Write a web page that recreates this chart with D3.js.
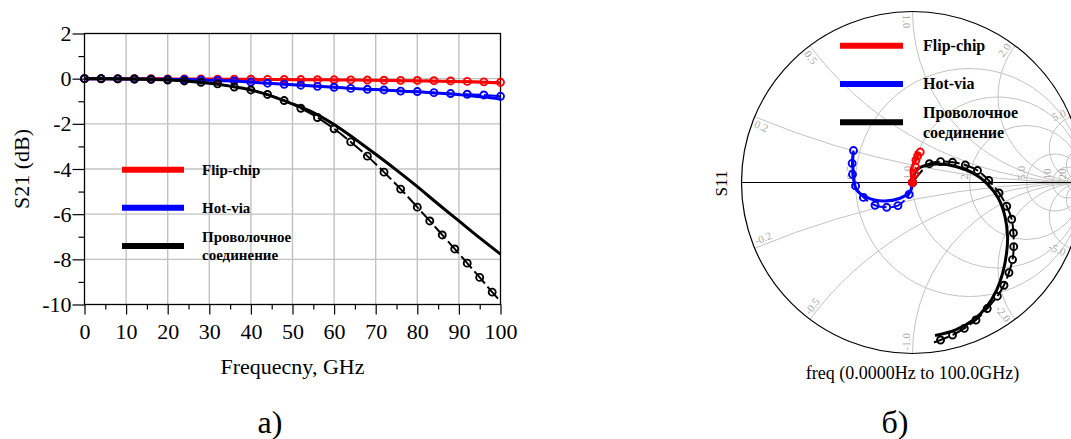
<!DOCTYPE html>
<html>
<head>
<meta charset="utf-8">
<script src="https://cdn.jsdelivr.net/npm/d3@7"></script>
<style>
  body { margin: 0; background: #fff; }
  text { font-family: "Liberation Serif", "Times New Roman", serif; }
</style>
</head>
<body>
<div id="chart"></div>
<script>
// ---------- data: S21 (dB) vs frequency (GHz) ----------
var freqRed = [0,4,8,12,16,20,24,28,32,36,40,44,48,52,56,60,64,68,72,76,80,84,88,92,96,100];
var redMeas = [0,0,0,0,-0.005,-0.01,-0.01,-0.015,-0.02,-0.02,-0.025,-0.03,-0.035,-0.04,-0.045,-0.05,-0.055,-0.06,-0.07,-0.075,-0.08,-0.09,-0.1,-0.12,-0.14,-0.16];
var redSim  = [0,0,0,0,-0.005,-0.01,-0.01,-0.015,-0.02,-0.025,-0.03,-0.035,-0.04,-0.045,-0.05,-0.055,-0.06,-0.07,-0.08,-0.09,-0.1,-0.11,-0.12,-0.14,-0.16,-0.19];

var freqBlue = [0,4,8,12,16,20,24,28,32,36,40,44,48,52,56,60,64,68,72,76,80,84,88,92,96,100];
var blueMeas = [0,0,-0.01,-0.015,-0.02,-0.03,-0.04,-0.06,-0.075,-0.1,-0.15,-0.2,-0.25,-0.29,-0.34,-0.38,-0.43,-0.47,-0.5,-0.55,-0.57,-0.62,-0.66,-0.69,-0.72,-0.78];
var blueSim  = [0,0,-0.01,-0.015,-0.02,-0.03,-0.04,-0.06,-0.075,-0.1,-0.15,-0.2,-0.25,-0.29,-0.34,-0.38,-0.43,-0.47,-0.5,-0.55,-0.58,-0.63,-0.68,-0.74,-0.81,-0.9];

var freqBlackMeas = [0,4,8,12,16,20,24,28,32,36,40,44,48,52,56,60,64,68,72,76,80,83,86,89,92,95,98,100];
var blackMeas = [0,-0.005,-0.01,-0.015,-0.03,-0.06,-0.1,-0.16,-0.23,-0.37,-0.5,-0.7,-0.97,-1.31,-1.72,-2.22,-2.8,-3.43,-4.14,-4.89,-5.69,-6.3,-6.92,-7.54,-8.17,-8.8,-9.45,-9.86];
var freqBlackSim = [0,5,10,15,20,25,30,35,40,45,50,55,60,65,70,75,80,85,90,95,100];
var blackSim = [0,0,-0.01,-0.03,-0.06,-0.11,-0.2,-0.33,-0.5,-0.77,-1.12,-1.5,-2.03,-2.67,-3.35,-4.05,-4.78,-5.55,-6.3,-7.05,-7.77];

var xTicks = [0,10,20,30,40,50,60,70,80,90,100];
var xMinor = [5,15,25,35,45,55,65,75,85,95];
var yTicks = [-10,-8,-6,-4,-2,0,2];
var yMinor = [-9,-7,-5,-3,-1,1];

// ---------- data: S11 on the Smith chart (real / imaginary part of reflection) ----------
var redS11MeasRe = [0,0.012,0.018,0.02,0.03,0.045];
var redS11MeasIm = [0,0.05,0.09,0.13,0.155,0.178];
var redS11SimRe  = [0,-0.006,-0.008,0.001,0.015,0.027,0.018];
var redS11SimIm  = [0,0.04,0.075,0.1,0.13,0.165,0.185];

var blueS11MeasRe = [0,-0.02,-0.085,-0.151,-0.219,-0.287,-0.333,-0.351,-0.353,-0.345];
var blueS11MeasIm = [0,-0.07,-0.135,-0.145,-0.133,-0.087,-0.02,0.048,0.112,0.187];
var blueS11SimRe  = [0,-0.015,-0.073,-0.171,-0.268,-0.326,-0.34,-0.346,-0.35,-0.346];
var blueS11SimIm  = [0,-0.054,-0.092,-0.108,-0.087,-0.044,-0.005,0.054,0.12,0.18];

var blackS11MeasRe = [0,0.099,0.164,0.234,0.309,0.38,0.446,0.506,0.551,0.58,0.59,0.592,0.585,0.564,0.535,0.496,0.437,0.371,0.303,0.234,0.164,0.112];
var blackS11MeasIm = [0,0.11,0.122,0.118,0.102,0.07,0.012,-0.061,-0.139,-0.215,-0.295,-0.375,-0.451,-0.527,-0.601,-0.665,-0.737,-0.804,-0.853,-0.892,-0.921,-0.94];
var blackS11SimRe  = [0,0.025,0.083,0.161,0.258,0.356,0.434,0.502,0.541,0.556,0.55,0.527,0.492,0.434,0.356,0.249,0.132];
var blackS11SimIm  = [0,0.073,0.102,0.108,0.092,0.054,-0.005,-0.092,-0.2,-0.317,-0.414,-0.531,-0.629,-0.726,-0.804,-0.863,-0.895];

var smithR = [0.5,1,2,5,10,20];
var smithRLabels = ["0.5","1.0","2.0","5.0","10","20"];
var smithX = [0.2,0.5,1,2,5,10,20,-0.2,-0.5,-1,-2,-5,-10,-20];
var smithXLabels = [0.2,0.5,1,2,5,-0.2,-0.5,-1,-2,-5];

var legendNames = ["Flip-chip", "Hot-via", "Проволочное|соединение"];
var legendColors = ["#ff0000", "#0000ff", "#000000"];

var width = 1071, height = 439;
var serif = "Liberation Serif, Times New Roman, serif";
var dash = "16,4";

var svg = d3.select("#chart").append("svg")
    .attr("width", width)
    .attr("height", height);

function zip(a, b) { return a.map(function(d, i) { return [d, b[i]]; }); }

// ================= a) S21 =================
var x = d3.scaleLinear().domain([0, 100]).range([84.5, 500.5]);
var y = d3.scaleLinear().domain([-10, 2]).range([304.5, 33.5]);

var g1 = svg.append("g");

// grid
g1.selectAll(".vgrid").data(xTicks.slice(1, -1)).enter().append("line")
    .attr("x1", function(d) { return x(d); }).attr("x2", function(d) { return x(d); })
    .attr("y1", y(2)).attr("y2", y(-10))
    .attr("stroke", "#c2c2c2").attr("stroke-width", 1.4);
g1.selectAll(".hgrid").data(yTicks.slice(1, -1)).enter().append("line")
    .attr("y1", function(d) { return y(d); }).attr("y2", function(d) { return y(d); })
    .attr("x1", x(0)).attr("x2", x(100))
    .attr("stroke", "#c2c2c2").attr("stroke-width", 1.4);

// axes
var xAx = g1.append("g").attr("transform", "translate(0," + y(-10) + ")")
    .call(d3.axisBottom(x).tickValues(xTicks).tickSize(10).tickPadding(9).tickFormat(function(d) { return d; }));
var xAxMinor = g1.append("g").attr("transform", "translate(0," + y(-10) + ")")
    .call(d3.axisBottom(x).tickValues(xMinor).tickSize(5).tickFormat(""));
var yAx = g1.append("g").attr("transform", "translate(" + x(0) + ",0)")
    .call(d3.axisLeft(y).tickValues(yTicks).tickSize(12).tickPadding(1).tickFormat(function(d) { return String(d); }));
var yAxMinor = g1.append("g").attr("transform", "translate(" + x(0) + ",0)")
    .call(d3.axisLeft(y).tickValues(yMinor).tickSize(6).tickFormat(""));

[xAx, xAxMinor, yAx, yAxMinor].forEach(function(a) {
  a.select(".domain").remove();
  a.attr("font-family", serif).attr("font-size", 22);
  a.selectAll("line").attr("stroke", "#000").attr("stroke-width", 1.2);
  a.selectAll("text").attr("fill", "#000");
});

g1.append("rect")
    .attr("x", x(0)).attr("y", y(2))
    .attr("width", x(100) - x(0)).attr("height", y(-10) - y(2))
    .attr("fill", "none").attr("stroke", "#000").attr("stroke-width", 1.3);

var lineS21 = d3.line()
    .x(function(d) { return x(d[0]); })
    .y(function(d) { return y(d[1]); })
    .curve(d3.curveMonotoneX);

function drawS21(freq, sim, meas, mfreq, color, skipLast) {
  var simData = zip(freq, sim);
  var measData = zip(mfreq, meas);
  g1.append("path").datum(simData)
      .attr("d", lineS21).attr("fill", "none")
      .attr("stroke", color).attr("stroke-width", 3);
  g1.append("path").datum(measData)
      .attr("d", lineS21).attr("fill", "none")
      .attr("stroke", color).attr("stroke-width", 2)
      .attr("stroke-dasharray", dash);
  var pts = skipLast ? measData.slice(0, -1) : measData;
  g1.selectAll(null).data(pts).enter().append("circle")
      .attr("cx", function(d) { return x(d[0]); })
      .attr("cy", function(d) { return y(d[1]); })
      .attr("r", 3.5)
      .attr("fill", "none").attr("stroke", color).attr("stroke-width", 1.9);
}
drawS21(freqRed, redSim, redMeas, freqRed, "#ff0000", false);
drawS21(freqBlue, blueSim, blueMeas, freqBlue, "#0000ff", false);
drawS21(freqBlackSim, blackSim, blackMeas, freqBlackMeas, "#000000", true);

// legend
function legend(g, x0, x1, xt, ys, fs) {
  legendNames.forEach(function(name, i) {
    g.append("line")
        .attr("x1", x0).attr("x2", x1).attr("y1", ys[i]).attr("y2", ys[i])
        .attr("stroke", legendColors[i]).attr("stroke-width", 6);
    var parts = name.split("|");
    var t = g.append("text")
        .attr("x", xt).attr("y", ys[i])
        .attr("font-size", fs).attr("font-weight", "bold").attr("fill", "#000");
    if (parts.length === 1) {
      t.attr("dy", "0.33em").text(name);
    } else {
      t.append("tspan").attr("x", xt).attr("dy", "-0.25em").text(parts[0]);
      t.append("tspan").attr("x", xt).attr("dy", "1.2em").text(parts[1]);
    }
  });
}
legend(g1, 122, 184, 202, [169.7, 207.7, 246], 15);

g1.append("text")
    .attr("x", (x(0) + x(100)) / 2).attr("y", 374)
    .attr("text-anchor", "middle").attr("font-size", 22)
    .text("Frequecny, GHz");
g1.append("text")
    .attr("transform", "translate(29,169) rotate(-90)")
    .attr("text-anchor", "middle").attr("font-size", 22)
    .text("S21 (dB)");
g1.append("text")
    .attr("x", 270).attr("y", 433)
    .attr("text-anchor", "middle").attr("font-size", 32)
    .text("a)");

// ================= б) Smith chart =================
var cx = 912.5, cy = 182.5, R = 171;
var sx = d3.scaleLinear().domain([-1, 1]).range([cx - R, cx + R]);
var sy = d3.scaleLinear().domain([-1, 1]).range([cy + R, cy - R]);

var g2 = svg.append("g");
g2.append("clipPath").attr("id", "unit")
  .append("circle").attr("cx", cx).attr("cy", cy).attr("r", R);

var grid = g2.append("g").attr("clip-path", "url(#unit)")
    .attr("fill", "none").attr("stroke", "#c2c2c2").attr("stroke-width", 1);

grid.selectAll(".rc").data(smithR).enter().append("circle")
    .attr("cx", function(r) { return sx(r / (1 + r)); })
    .attr("cy", cy)
    .attr("r", function(r) { return sx(1 / (1 + r)) - sx(0); });

grid.selectAll(".xc").data(smithX).enter().append("circle")
    .attr("cx", sx(1))
    .attr("cy", function(v) { return sy(1 / v); })
    .attr("r", function(v) { return sx(1 / Math.abs(v)) - sx(0); });

// r labels on the real axis
g2.selectAll(".rl").data(smithR).enter().append("text")
    .attr("transform", function(r) {
      return "translate(" + (sx((r - 1) / (r + 1)) - 1.5) + "," + (cy - 3) + ") rotate(-90)";
    })
    .attr("font-size", 11).attr("fill", "#a8a8a8")
    .text(function(r, i) { return smithRLabels[i]; });

// reactance labels along the outer circle
smithXLabels.forEach(function(v) {
  var px = (v * v - 1) / (v * v + 1), py = 2 * v / (v * v + 1);
  var ix = -px, iy = py; // inward direction on screen
  var ang = Math.atan2(iy, ix) * 180 / Math.PI;
  var anchor = "start";
  if (ang > 90) { ang -= 180; anchor = "end"; }
  if (ang < -90) { ang += 180; anchor = "end"; }
  var posX = sx(px) + ix * 3, posY = sy(py) + iy * 3;
  // keep text on the side away from the arc centre
  var wx = sx(px) - sx(1), wy = sy(py) - sy(1 / v);
  var a = ang * Math.PI / 180;
  var ux = Math.sin(a), uy = -Math.cos(a);
  var dy = (ux * wx + uy * wy) > 0 ? "-0.2em" : "0.9em";
  var lab = (v < 0 ? "-" : "") + Math.abs(v).toFixed(1);
  g2.append("text")
      .attr("transform", "translate(" + posX + "," + posY + ") rotate(" + ang + ")")
      .attr("text-anchor", anchor).attr("dy", dy)
      .attr("font-size", 11).attr("fill", "#a8a8a8")
      .text(lab);
});

g2.append("circle").attr("cx", cx).attr("cy", cy).attr("r", R)
    .attr("fill", "none").attr("stroke", "#000").attr("stroke-width", 1.2);
g2.append("line").attr("x1", cx - R).attr("x2", cx + R).attr("y1", cy).attr("y2", cy)
    .attr("stroke", "#000").attr("stroke-width", 1);

var lineSmith = d3.line()
    .x(function(d) { return sx(d[0]); })
    .y(function(d) { return sy(d[1]); })
    .curve(d3.curveCatmullRom);

function drawS11(simRe, simIm, measRe, measIm, color, skipLast) {
  var sim = zip(simRe, simIm), meas = zip(measRe, measIm);
  g2.append("path").datum(sim).attr("d", lineSmith).attr("fill", "none")
      .attr("stroke", color).attr("stroke-width", 3);
  g2.append("path").datum(meas).attr("d", lineSmith).attr("fill", "none")
      .attr("stroke", color).attr("stroke-width", 2).attr("stroke-dasharray", dash);
  var pts = skipLast ? meas.slice(0, -1) : meas;
  g2.selectAll(null).data(pts).enter().append("circle")
      .attr("cx", function(d) { return sx(d[0]); })
      .attr("cy", function(d) { return sy(d[1]); })
      .attr("r", 3.5)
      .attr("fill", "none").attr("stroke", color).attr("stroke-width", 1.9);
}
drawS11(blueS11SimRe, blueS11SimIm, blueS11MeasRe, blueS11MeasIm, "#0000ff", false);
drawS11(blackS11SimRe, blackS11SimIm, blackS11MeasRe, blackS11MeasIm, "#000000", true);
drawS11(redS11SimRe, redS11SimIm, redS11MeasRe, redS11MeasIm, "#ff0000", false);
g2.append("circle").attr("cx", sx(0)).attr("cy", sy(0)).attr("r", 4).attr("fill", "#ff0000");

legend(g2, 840, 903, 923, [45.7, 84, 122.3], 16);

g2.append("text")
    .attr("transform", "translate(727,183.5) rotate(-90)")
    .attr("text-anchor", "middle").attr("font-size", 17)
    .text("S11");
g2.append("text")
    .attr("x", cx).attr("y", 379)
    .attr("text-anchor", "middle").attr("font-size", 18)
    .text("freq (0.0000Hz to 100.0GHz)");
g2.append("text")
    .attr("x", 895).attr("y", 433)
    .attr("text-anchor", "middle").attr("font-size", 32)
    .text("б)");
</script>
</body>
</html>
